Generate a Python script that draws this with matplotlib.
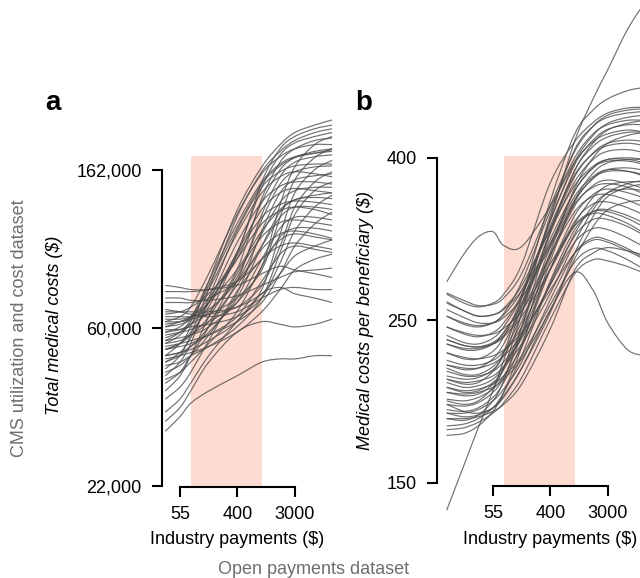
import matplotlib
matplotlib.use("Agg")
import matplotlib.pyplot as plt
from matplotlib.path import Path
from matplotlib.patches import PathPatch
import numpy as np

plt.rcParams["font.family"] = ["Liberation Sans", "DejaVu Sans"]

# --- data -----------------------------------------------------------------
# industry payments ($) at which each curve was read off
PAY_A = [33, 55, 80, 150, 400, 950, 1800, 3000, 6000, 11000]
PAY_B = [11, 20, 33, 55, 80, 150, 400, 950, 1800, 3000, 6000, 11000]

# panel a: total medical costs, in thousands of $
COSTS_A = [
    [50, 54, 60, 80, 125, 165, 190, 205, 215, 222],
    [46, 50, 57, 76, 120, 160, 182, 195, 205, 210],
    [62, 64, 68, 84, 122, 158, 176, 185, 190, 190],
    [55, 58, 63, 80, 115, 150, 168, 176, 180, 182],
    [44, 48, 54, 72, 110, 145, 160, 166, 168, 168],
    [58, 60, 64, 76, 108, 140, 155, 160, 158, 155],
    [48, 51, 56, 70, 102, 132, 146, 150, 150, 148],
    [52, 54, 58, 68, 96, 126, 140, 144, 142, 140],
    [40, 44, 50, 64, 94, 120, 130, 133, 132, 130],
    [60, 61, 63, 70, 92, 115, 125, 128, 126, 122],
    [42, 45, 50, 60, 84, 106, 116, 118, 116, 114],
    [54, 55, 57, 62, 78, 98, 108, 110, 108, 105],
    [38, 41, 45, 55, 75, 92, 100, 102, 100, 98],
    [35, 38, 42, 50, 62, 74, 77, 74, 72, 70],
    [33, 36, 40, 48, 58, 62, 61, 60, 61, 63],
    [31, 34, 37, 40, 44, 48, 49, 49, 50, 50],
    [56, 58, 61, 70, 95, 150, 185, 200, 210, 215],
    [60, 62, 64, 72, 96, 145, 178, 192, 200, 205],
    [52, 54, 57, 64, 86, 135, 170, 185, 195, 198],
    [65, 66, 68, 74, 92, 132, 162, 175, 182, 185],
    [48, 50, 53, 60, 80, 122, 155, 170, 176, 178],
    [58, 59, 61, 66, 82, 118, 148, 160, 165, 166],
    [45, 47, 50, 57, 74, 110, 140, 152, 156, 158],
    [63, 63, 64, 67, 80, 108, 132, 142, 145, 145],
    [50, 51, 53, 58, 72, 100, 124, 134, 136, 135],
    [70, 70, 70, 72, 80, 100, 120, 128, 128, 126],
    [55, 56, 57, 60, 70, 92, 112, 120, 120, 118],
    [43, 45, 48, 54, 66, 88, 106, 112, 112, 110],
    [75, 75, 75, 76, 80, 92, 104, 108, 106, 104],
    [52, 53, 54, 57, 64, 80, 95, 100, 98, 96],
    [78, 77, 76, 76, 78, 84, 88, 86, 84, 82],
    [67, 66, 65, 64, 66, 72, 76, 77, 76, 76],
    [57, 58, 59, 62, 70, 88, 130, 165, 190, 200],
    [62, 62, 63, 65, 72, 86, 120, 152, 175, 185],
    [50, 51, 52, 55, 62, 76, 108, 140, 162, 172],
    [64, 64, 64, 65, 68, 78, 100, 128, 150, 160],
    [47, 48, 50, 53, 60, 72, 96, 122, 142, 150],
    [59, 59, 60, 61, 64, 72, 90, 110, 128, 138],
    [53, 54, 55, 57, 62, 70, 84, 100, 115, 124],
    [66, 66, 66, 66, 68, 74, 84, 94, 100, 104],
    [49, 50, 51, 53, 58, 66, 76, 86, 92, 95],
    [72, 72, 71, 71, 73, 78, 82, 85, 86, 87],
    [61, 62, 64, 70, 86, 110, 126, 134, 138, 140],
    [54, 57, 62, 78, 112, 148, 166, 175, 180, 184],
]

# panel b: medical costs per beneficiary ($)
COSTS_B = [
    [138, 158, 177, 198, 217, 256, 331, 421, 478, 522, 590, 640],
    [275, 299, 315, 320, 307, 306, 345, 395, 420, 430, 435, 432],
    [190, 186, 185, 188, 194, 212, 252, 283, 268, 243, 224, 220],
    [205, 202, 203, 210, 222, 262, 350, 430, 462, 478, 490, 495],
    [265, 258, 255, 258, 265, 290, 370, 420, 445, 458, 465, 466],
    [192, 190, 192, 200, 212, 250, 335, 410, 440, 452, 458, 460],
    [248, 242, 240, 243, 250, 275, 340, 400, 430, 442, 448, 448],
    [222, 218, 218, 223, 233, 262, 330, 392, 422, 436, 442, 442],
    [182, 181, 184, 192, 204, 240, 318, 385, 414, 426, 432, 432],
    [240, 235, 233, 236, 243, 265, 325, 380, 405, 415, 418, 415],
    [214, 211, 212, 218, 228, 255, 318, 372, 398, 408, 410, 406],
    [258, 252, 248, 249, 254, 272, 322, 368, 390, 398, 398, 394],
    [197, 195, 196, 202, 212, 240, 305, 362, 388, 396, 396, 392],
    [231, 227, 226, 229, 236, 256, 308, 356, 378, 386, 384, 378],
    [173, 174, 178, 186, 197, 226, 292, 350, 376, 384, 384, 380],
    [207, 205, 206, 211, 220, 244, 298, 346, 368, 374, 370, 364],
    [253, 247, 243, 243, 247, 262, 305, 348, 366, 370, 366, 358],
    [187, 186, 188, 194, 203, 228, 285, 336, 358, 364, 360, 354],
    [228, 225, 225, 228, 234, 252, 298, 340, 356, 358, 352, 344],
    [203, 200, 201, 205, 213, 234, 285, 330, 348, 350, 344, 336],
    [178, 179, 182, 188, 197, 220, 275, 322, 340, 342, 336, 328],
    [217, 214, 214, 217, 223, 240, 285, 326, 340, 340, 333, 324],
    [193, 192, 194, 199, 207, 226, 274, 316, 332, 332, 325, 316],
    [240, 236, 234, 235, 239, 252, 290, 326, 338, 336, 328, 318],
    [210, 207, 207, 210, 216, 232, 272, 310, 323, 322, 314, 305],
    [185, 185, 187, 192, 199, 216, 260, 300, 314, 312, 304, 295],
    [200, 198, 199, 202, 207, 220, 256, 292, 304, 302, 294, 285],
    [176, 177, 180, 185, 191, 206, 245, 282, 294, 293, 288, 282],
    [222, 219, 218, 220, 224, 236, 268, 300, 312, 310, 302, 294],
    [266, 260, 256, 257, 262, 282, 345, 408, 440, 455, 462, 464],
    [234, 229, 228, 232, 240, 264, 330, 395, 428, 444, 452, 455],
    [212, 208, 208, 213, 222, 250, 320, 385, 418, 435, 444, 448],
    [190, 189, 191, 197, 206, 234, 300, 365, 400, 418, 428, 432],
    [248, 243, 241, 243, 249, 268, 322, 378, 406, 418, 422, 420],
    [200, 197, 198, 203, 211, 236, 296, 352, 382, 394, 398, 398],
    [228, 224, 224, 228, 236, 258, 312, 362, 388, 398, 400, 398],
    [185, 183, 184, 188, 195, 212, 250, 300, 335, 356, 366, 370],
    [205, 203, 204, 207, 213, 228, 265, 310, 342, 360, 370, 374],
    [259, 252, 248, 249, 253, 268, 308, 352, 376, 386, 388, 385],
    [231, 227, 226, 228, 233, 248, 285, 328, 355, 368, 372, 372],
    [182, 182, 183, 186, 190, 202, 238, 285, 300, 305, 302, 298],
    [197, 196, 197, 200, 205, 218, 252, 295, 325, 342, 350, 352],
    [214, 212, 212, 215, 220, 234, 272, 318, 346, 360, 364, 362],
]

SHADE_PAY = (80, 950)          # highlighted payment band
SHADE_TOP_A = 177000
SHADE_TOP_B = 402

XTICK_LABELS = ["55", "400", "3000"]
YTICK_LABELS_A = ["22,000", "60,000", "162,000"]
YTICK_LABELS_B = ["150", "250", "400"]

# --- style ----------------------------------------------------------------
LINE_COLOR = "#4d4d4d"
SHADE_COLOR = "#fddbd0"
GRAY_TEXT = "#6e6e6e"
FS = 13

W, H = 640, 578
fig = plt.figure(figsize=(W / 100, H / 100), dpi=100)


def px_axes(left, right, top, bottom):
    return fig.add_axes([left / W, 1 - bottom / H, (right - left) / W, (bottom - top) / H])


def smooth_curve(ax, xs, ys):
    # draw the read points as one smooth stroke (Catmull-Rom in log-log space)
    p = np.column_stack([np.log10(xs), np.log10(ys)])
    verts, codes = [p[0]], [Path.MOVETO]
    n = len(p)
    for i in range(n - 1):
        p0 = p[max(i - 1, 0)]
        p3 = p[min(i + 2, n - 1)]
        verts += [p[i] + (p[i + 1] - p0) / 6, p[i + 1] - (p3 - p[i]) / 6, p[i + 1]]
        codes += [Path.CURVE4] * 3
    path = Path(10 ** np.array(verts), codes)
    ax.add_patch(PathPatch(path, fill=False, ec=LINE_COLOR, lw=0.85, alpha=0.8))


def style_axes(ax, xticks, yticks, ylabels):
    ax.set_xscale("log")
    ax.set_yscale("log")
    ax.set_xticks(xticks)
    ax.set_xticklabels(XTICK_LABELS)
    ax.set_yticks(yticks)
    ax.set_yticklabels(ylabels)
    ax.minorticks_off()
    for side in ("top", "right"):
        ax.spines[side].set_visible(False)
    ax.spines["left"].set_bounds(yticks[0], yticks[-1])
    ax.spines["bottom"].set_bounds(xticks[0], xticks[-1])
    for side in ("left", "bottom"):
        ax.spines[side].set_linewidth(1.5)
    ax.tick_params(direction="out", length=7.5, width=1.5, labelsize=FS)
    ax.tick_params(axis="x", pad=6)
    ax.tick_params(axis="y", pad=7)
    ax.patch.set_alpha(0)


xticks = np.geomspace(55, 3000, 3)

# panel a
ax_a = px_axes(162, 339, 95, 487)
ax_a.set_xscale("log")
ax_a.set_yscale("log")
ax_a.fill_between(SHADE_PAY, 21800, SHADE_TOP_A, color=SHADE_COLOR, lw=0, zorder=0)
for row in COSTS_A:
    smooth_curve(ax_a, PAY_A, np.array(row) * 1000)
ax_a.set_xlim(29.5, 14000)
ax_a.set_ylim(21800, 260000)
style_axes(ax_a, xticks, np.geomspace(22000, 162000, 3), YTICK_LABELS_A)

# panel b
ax_b = px_axes(437, 652, -8, 530)
ax_b.set_xscale("log")
ax_b.set_yscale("log")
ax_b.fill_between(SHADE_PAY, 148.3, SHADE_TOP_B, color=SHADE_COLOR, lw=0, zorder=0)
for row in COSTS_B:
    smooth_curve(ax_b, PAY_B, row)
ax_b.set_xlim(7.85, 14000)
ax_b.set_ylim(130, 660)
style_axes(ax_b, xticks, np.geomspace(150, 400, 3), YTICK_LABELS_B)
ax_b.spines["bottom"].set_position(("data", 148.3))


def ftext(x, y, s, **kw):
    fig.text(x / W, 1 - y / H, s, **kw)


ftext(55, 325, "Total medical costs ($)", rotation=90, style="italic",
      ha="center", va="center", fontsize=FS)
ftext(365, 320, "Medical costs per beneficiary ($)", rotation=90, style="italic",
      ha="center", va="center", fontsize=FS)
ftext(20, 328, "CMS utilization and cost dataset", rotation=90,
      ha="center", va="center", fontsize=FS, color=GRAY_TEXT)
ftext(237, 540, "Industry payments ($)", ha="center", va="center", fontsize=FS)
ftext(550, 540, "Industry payments ($)", ha="center", va="center", fontsize=FS)
ftext(314, 569, "Open payments dataset", ha="center", va="center",
      fontsize=FS, color=GRAY_TEXT)
ftext(45, 110, "a", fontsize=20, fontweight="bold", ha="left", va="baseline")
ftext(355, 110, "b", fontsize=20, fontweight="bold", ha="left", va="baseline")

fig.savefig("out.png", dpi=100)
